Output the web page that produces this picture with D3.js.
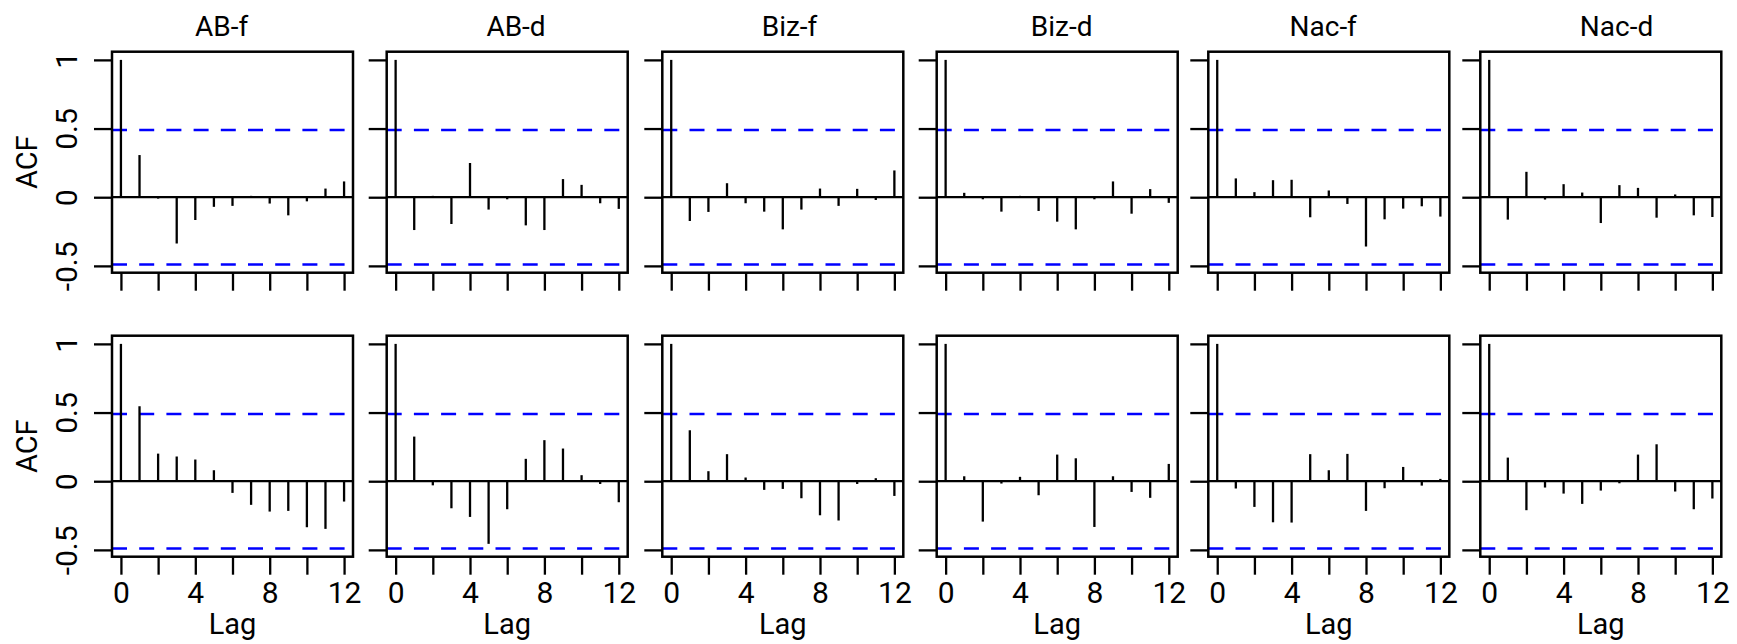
<!DOCTYPE html>
<html>
<head>
<meta charset="utf-8">
<script src="https://cdn.jsdelivr.net/npm/d3@7"></script>
<style>
  body { margin: 0; background: #fff; }
  text { font-family: Roboto, "DejaVu Sans", sans-serif; fill: #000; }
</style>
</head>
<body>
<svg id="chart"></svg>
<script>
// panel titles (top row only) and lags
var titles = ["AB-f", "AB-d", "Biz-f", "Biz-d", "Nac-f", "Nac-d"];
var lags = [0, 1, 2, 3, 4, 5, 6, 7, 8, 9, 10, 11, 12];
var clim = 0.49; // confidence bound drawn as blue dashes

// top row acf values, lag 0..12
var abF1  = [1, 0.307, -0.01, -0.337, -0.166, -0.07, -0.063, 0.01, -0.046, -0.132, -0.03, 0.063, 0.115];
var abD1  = [1, -0.239, 0.01, -0.195, 0.249, -0.09, -0.015, -0.205, -0.239, 0.132, 0.09, -0.044, -0.085];
var bizF1 = [1, -0.173, -0.107, 0.102, -0.044, -0.105, -0.234, -0.09, 0.063, -0.063, 0.061, -0.02, 0.195];
var bizD1 = [1, 0.032, -0.015, -0.105, 0.01, -0.1, -0.178, -0.234, -0.015, 0.115, -0.12, 0.059, -0.041];
var nacF1 = [1, 0.137, 0.037, 0.124, 0.127, -0.146, 0.049, -0.049, -0.359, -0.161, -0.083, -0.066, -0.141];
var nacD1 = [1, -0.163, 0.185, -0.017, 0.095, 0.034, -0.188, 0.088, 0.068, -0.149, 0.02, -0.132, -0.144];

// bottom row acf values
var abF2  = [1, 0.546, 0.201, 0.18, 0.158, 0.08, -0.085, -0.172, -0.221, -0.216, -0.335, -0.347, -0.148];
var abD2  = [1, 0.325, -0.03, -0.197, -0.26, -0.456, -0.204, 0.163, 0.299, 0.238, 0.044, -0.02, -0.153];
var bizF2 = [1, 0.371, 0.073, 0.197, 0.027, -0.063, -0.056, -0.124, -0.248, -0.286, -0.02, 0.022, -0.107];
var bizD2 = [1, 0.036, -0.294, -0.017, 0.032, -0.102, 0.194, 0.167, -0.333, 0.036, -0.078, -0.121, 0.126];
var nacF2 = [1, -0.053, -0.187, -0.299, -0.301, 0.197, 0.08, 0.199, -0.216, -0.051, 0.104, -0.032, 0.017];
var nacD2 = [1, 0.172, -0.211, -0.046, -0.09, -0.165, -0.068, -0.015, 0.194, 0.269, -0.075, -0.204, -0.126];

var rows = [[abF1, abD1, bizF1, bizD1, nacF1, nacD1],
            [abF2, abD2, bizF2, bizD2, nacF2, nacD2]];

var W = 1737, H = 644;
var panelLeft = [112, 386.7, 662.3, 936.7, 1208.3, 1480.3], panelW = 241;
var rowTop = [51.7, 335.7], panelH = 221;
var titleX = [221.7, 516, 789.5, 1061.7, 1323.2, 1616.5];

var svg = d3.select("#chart").attr("width", W).attr("height", H);
svg.append("rect").attr("width", W).attr("height", H).attr("fill", "#fff");

// R style range: data range extended 4% on each side
var xlo = lags[0], xhi = lags[lags.length - 1], xpad = (xhi - xlo) * 0.04;

rows.forEach(function(row, r) {
  row.forEach(function(vals, c) {
    var left = panelLeft[c], top = rowTop[r];
    var ymin = Math.min(-clim, d3.min(vals)), ymax = Math.max(clim, d3.max(vals));
    var ypad = (ymax - ymin) * 0.04;
    var x = d3.scaleLinear().domain([xlo - xpad, xhi + xpad]).range([left, left + panelW]);
    var y = d3.scaleLinear().domain([ymin - ypad, ymax + ypad]).range([top + panelH, top]);
    var g = svg.append("g");

    // zero line
    g.append("line")
      .attr("x1", left).attr("x2", left + panelW)
      .attr("y1", y(0)).attr("y2", y(0))
      .attr("stroke", "#000").attr("stroke-width", 2.3);

    // confidence bounds
    g.selectAll("line.clim")
      .data([clim, -clim])
      .enter().append("line")
        .attr("class", "clim")
        .attr("x1", left).attr("x2", left + panelW)
        .attr("y1", function(d) { return y(d); })
        .attr("y2", function(d) { return y(d); })
        .attr("stroke", "#0000ff").attr("stroke-width", 2.6)
        .attr("stroke-dasharray", "15,12.2");

    // spikes
    g.selectAll("line.spike")
      .data(vals)
      .enter().append("line")
        .attr("class", "spike")
        .attr("x1", function(d, i) { return x(lags[i]); })
        .attr("x2", function(d, i) { return x(lags[i]); })
        .attr("y1", y(0))
        .attr("y2", function(d) { return y(d); })
        .attr("stroke", "#000").attr("stroke-width", 2.3);

    // box
    g.append("rect")
      .attr("x", left).attr("y", top)
      .attr("width", panelW).attr("height", panelH)
      .attr("fill", "none").attr("stroke", "#000").attr("stroke-width", 2.5);

    // y axis
    var ya = g.append("g").attr("transform", "translate(" + left + ",0)")
      .call(d3.axisLeft(y).tickValues([-0.5, 0, 0.5, 1]).tickSize(18)
        .tickFormat(function(d) { return c === 0 ? String(d) : ""; }));
    ya.select(".domain").remove();
    ya.selectAll(".tick line").attr("stroke", "#000").attr("stroke-width", 2.3);
    ya.selectAll(".tick text")
      .attr("transform", "rotate(-90)")
      .attr("x", 0).attr("y", -35).attr("dy", 0)
      .attr("text-anchor", "middle")
      .style("font-size", "30px").style("font-family", "Roboto, sans-serif").attr("fill", "#000");

    // x axis
    var xa = g.append("g").attr("transform", "translate(0," + (top + panelH) + ")")
      .call(d3.axisBottom(x).tickValues([0, 2, 4, 6, 8, 10, 12]).tickSize(18)
        .tickFormat(function(d) { return (r === 1 && d % 4 === 0) ? String(d) : ""; }));
    xa.select(".domain").remove();
    xa.selectAll(".tick line").attr("stroke", "#000").attr("stroke-width", 2.3);
    xa.selectAll(".tick text")
      .attr("y", 46.6).attr("dy", 0)
      .style("font-size", "30px").style("font-family", "Roboto, sans-serif").attr("fill", "#000");

    if (c === 0) {
      g.append("text")
        .attr("transform", "translate(36.7," + (top + panelH / 2) + ") rotate(-90)")
        .attr("text-anchor", "middle")
        .style("font-size", "29px")
        .text("ACF");
    }
    if (r === 1) {
      g.append("text")
        .attr("x", left + panelW / 2).attr("y", 634)
        .attr("text-anchor", "middle")
        .style("font-size", "29px")
        .text("Lag");
    }
    if (r === 0) {
      g.append("text")
        .attr("x", titleX[c]).attr("y", 36)
        .attr("text-anchor", "middle")
        .style("font-size", "28px")
        .text(titles[c]);
    }
  });
});
</script>
</body>
</html>
